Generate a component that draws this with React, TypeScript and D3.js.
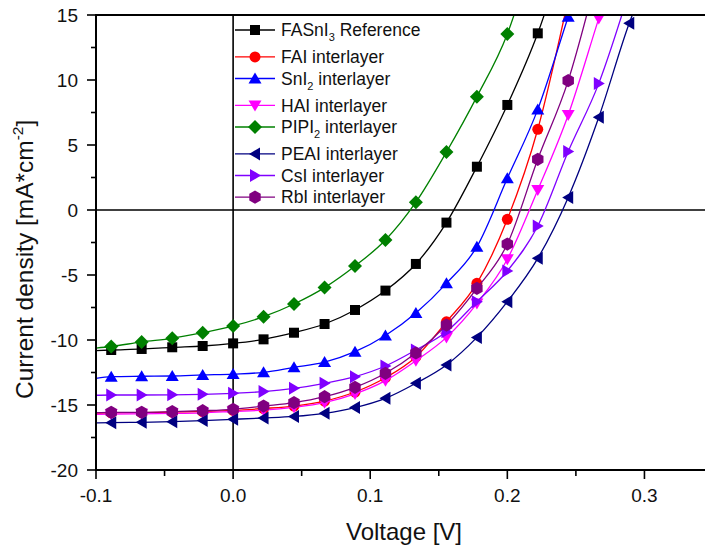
import React from "react";
import * as d3 from "d3";

// Voltage grid of the J-V sweep (V); markers sit on every point except the first
const voltages = [
  -0.1, -0.0889, -0.0667, -0.0444, -0.0222, 0, 0.0222, 0.0444, 0.0667, 0.0889,
  0.1111, 0.1333, 0.1556, 0.1778, 0.2, 0.2222, 0.2444, 0.2667, 0.2889, 0.3111,
];

// Current density (mA/cm^2) per device, aligned with the start of `voltages`
const refFASnI3 = [-10.82, -10.77, -10.69, -10.56, -10.46, -10.26, -9.95, -9.44, -8.77, -7.69, -6.2, -4.15, -0.97, 3.33, 8.08, 13.59, 20.8];
const faiLayer = [-15.62, -15.6, -15.58, -15.55, -15.5, -15.42, -15.27, -15.08, -14.7, -14.0, -12.9, -11.3, -8.6, -5.64, -0.72, 6.21, 16.2];
const snI2Layer = [-12.95, -12.82, -12.79, -12.77, -12.69, -12.62, -12.49, -12.1, -11.7, -10.9, -9.65, -7.92, -5.64, -2.82, 2.44, 7.74, 14.87, 22];
const haiLayer = [-15.72, -15.7, -15.68, -15.65, -15.6, -15.5, -15.4, -15.18, -14.82, -14.15, -13.13, -11.6, -9.8, -7.2, -3.79, 1.54, 7.31, 14.74, 22];
const pipi2Layer = [-10.62, -10.5, -10.15, -9.87, -9.44, -8.92, -8.21, -7.23, -5.97, -4.31, -2.31, 0.6, 4.46, 8.72, 13.54, 21];
const peaiLayer = [-16.38, -16.36, -16.33, -16.28, -16.2, -16.1, -16.0, -15.88, -15.64, -15.2, -14.49, -13.33, -11.92, -9.8, -7.05, -3.72, 0.97, 7.13, 14.36, 20];
const csiLayer = [-14.25, -14.23, -14.23, -14.22, -14.18, -14.1, -13.97, -13.72, -13.33, -12.82, -12.0, -10.77, -9.36, -7.05, -4.69, -1.23, 4.5, 9.74, 16.8];
const rbiLayer = [-15.58, -15.56, -15.56, -15.51, -15.44, -15.33, -15.08, -14.82, -14.36, -13.64, -12.56, -11.0, -8.85, -6.03, -2.62, 3.9, 9.95, 18.6];

// Legend names: [main, subscript, rest]
const seriesNames: [string, string, string][] = [
  ["FASnI", "3", " Reference"],
  ["FAI interlayer", "", ""],
  ["SnI", "2", " interlayer"],
  ["HAI interlayer", "", ""],
  ["PIPI", "2", " interlayer"],
  ["PEAI interlayer", "", ""],
  ["CsI interlayer", "", ""],
  ["RbI interlayer", "", ""],
];
const seriesValues = [refFASnI3, faiLayer, snI2Layer, haiLayer, pipi2Layer, peaiLayer, csiLayer, rbiLayer];
const seriesColors = ["#000000", "#ff0000", "#0000ff", "#ff00ff", "#008000", "#000080", "#8000ff", "#800080"];
const seriesMarkers = ["square", "circle", "triUp", "triDown", "diamond", "triLeft", "triRight", "hexagon"];

const xTicks = [-0.1, 0.0, 0.1, 0.2, 0.3];
const xMinorTicks = [-0.05, 0.05, 0.15, 0.25];
const yTicks = [-20, -15, -10, -5, 0, 5, 10, 15];
const yMinorTicks = [-17.5, -12.5, -7.5, -2.5, 2.5, 7.5, 12.5];

const W = 705;
const H = 552;
const FONT = "'Liberation Sans', Arial, sans-serif";

function markerPath(type: string): string {
  switch (type) {
    case "square":
      return "M-5,-5H5V5H-5Z";
    case "circle":
      return "M5.5,0A5.5,5.5 0 1,1 -5.5,0A5.5,5.5 0 1,1 5.5,0Z";
    case "triUp":
      return "M0,-6L6.5,5L-6.5,5Z";
    case "triDown":
      return "M0,6L6.5,-5L-6.5,-5Z";
    case "triLeft":
      return "M-6,0L5,-6.5L5,6.5Z";
    case "triRight":
      return "M6,0L-5,-6.5L-5,6.5Z";
    case "diamond":
      return "M0,-7L7,0L0,7L-7,0Z";
    case "hexagon": {
      const r = 6.6;
      const pts = d3.range(6).map((i) => {
        const a = (Math.PI / 3) * i - Math.PI / 2;
        return [r * Math.cos(a), r * Math.sin(a)];
      });
      return "M" + pts.map((p) => p.join(",")).join("L") + "Z";
    }
  }
  return "";
}

export default function App() {
  const x = d3.scaleLinear().domain([-0.1, 0.35]).range([96, 713]);
  const y = d3.scaleLinear().domain([-20, 15]).range([470, 15]);
  const [x0, x1] = x.range();
  const [yBottom, yTop] = y.range();

  const line = d3
    .line<[number, number]>()
    .x((d) => x(d[0]))
    .y((d) => y(d[1]))
    .curve(d3.curveMonotoneX);

  const fmtX = (v: number) => v.toFixed(1);

  // legend rows: extra room below names with a subscript
  const legendRows: number[] = [];
  let ly = 30;
  seriesNames.forEach((n) => {
    legendRows.push(ly);
    ly += 21.6 + (n[1] ? 5.3 : 0);
  });

  return (
    <svg
      width={W}
      height={H}
      style={{ position: "absolute", left: 0, top: 0, background: "#fff" }}
      fontFamily={FONT}
    >
      <defs>
        <clipPath id="plotArea">
          <rect x={x0} y={yTop} width={x1 - x0} height={yBottom - yTop} />
        </clipPath>
      </defs>

      {/* zero reference lines */}
      <line x1={x(0)} x2={x(0)} y1={yTop} y2={yBottom} stroke="#000" strokeWidth={1.6} />
      <line x1={x0} x2={x1} y1={y(0)} y2={y(0)} stroke="#000" strokeWidth={1.6} />

      {/* series */}
      <g clipPath="url(#plotArea)">
        {seriesValues.map((vals, si) => {
          const pts = vals.map((v, i) => [voltages[i], v] as [number, number]);
          return (
            <g key={si}>
              <path d={line(pts) || ""} fill="none" stroke={seriesColors[si]} strokeWidth={1.3} />
              {pts.slice(1).map((p, i) => (
                <path
                  key={i}
                  d={markerPath(seriesMarkers[si])}
                  transform={`translate(${x(p[0])},${y(p[1])})`}
                  fill={seriesColors[si]}
                />
              ))}
            </g>
          );
        })}
      </g>

      {/* frame */}
      <line x1={x0} x2={x1} y1={yTop} y2={yTop} stroke="#000" strokeWidth={2} />
      <line x1={x0} x2={x1} y1={yBottom} y2={yBottom} stroke="#000" strokeWidth={2} />
      <line x1={x0} x2={x0} y1={yTop - 1} y2={yBottom + 1} stroke="#000" strokeWidth={2} />

      {/* x axis ticks */}
      {xTicks.map((t) => (
        <g key={"xt" + t}>
          <line x1={x(t)} x2={x(t)} y1={yBottom} y2={yBottom + 9} stroke="#000" strokeWidth={1.6} />
          <text x={x(t)} y={501.5} textAnchor="middle" fontSize={19} fill="#111">
            {fmtX(t)}
          </text>
        </g>
      ))}
      {xMinorTicks.map((t) => (
        <line key={"xm" + t} x1={x(t)} x2={x(t)} y1={yBottom} y2={yBottom + 6} stroke="#000" strokeWidth={1.6} />
      ))}

      {/* y axis ticks */}
      {yTicks.map((t) => (
        <g key={"yt" + t}>
          <line x1={x0 - 9} x2={x0} y1={y(t)} y2={y(t)} stroke="#000" strokeWidth={1.6} />
          <text x={x0 - 18} y={y(t)} dy="0.36em" textAnchor="end" fontSize={19} fill="#111">
            {String(t)}
          </text>
        </g>
      ))}
      {yMinorTicks.map((t) => (
        <line key={"ym" + t} x1={x0 - 5} x2={x0} y1={y(t)} y2={y(t)} stroke="#000" strokeWidth={1.6} />
      ))}

      {/* axis titles */}
      <text x={404} y={540} textAnchor="middle" fontSize={24} fill="#111">
        Voltage [V]
      </text>
      <text
        transform={`translate(33,399) rotate(-90)`}
        textAnchor="start"
        fontSize={24.5}
        fill="#111"
      >
        Current density [mA*cm
        <tspan fontSize={15.5} dy={-10}>-2</tspan>
        <tspan dy={10}>]</tspan>
      </text>

      {/* legend */}
      <g>
        {seriesNames.map((n, i) => {
          const cy = legendRows[i];
          return (
            <g key={"lg" + i}>
              <line x1={235} x2={275} y1={cy} y2={cy} stroke={seriesColors[i]} strokeWidth={1.3} />
              <path d={markerPath(seriesMarkers[i])} transform={`translate(255,${cy})`} fill={seriesColors[i]} />
              <text x={281} y={cy + 6.3} fontSize={17.5} fill="#111">
                {n[0]}
                {n[1] ? (
                  <tspan fontSize={11} dy={5}>
                    {n[1]}
                  </tspan>
                ) : null}
                {n[2] ? <tspan dy={n[1] ? -5 : 0}>{n[2]}</tspan> : null}
              </text>
            </g>
          );
        })}
      </g>
    </svg>
  );
}
